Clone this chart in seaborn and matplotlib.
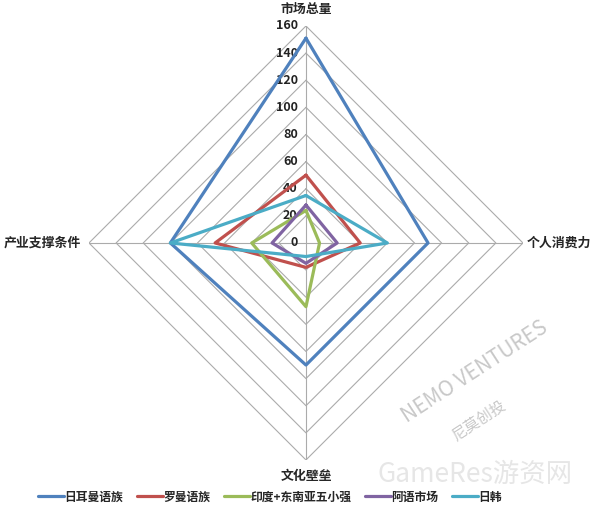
import numpy as np
import pandas as pd
import matplotlib
matplotlib.use("Agg")
import matplotlib.pyplot as plt
import seaborn as sns

# axes of the radar, clockwise from the top
categories = ["市场总量", "个人消费力", "文化壁垒", "产业支撑条件"]
series_names = ["日耳曼语族", "罗曼语族", "印度+东南亚五小强", "阿语市场", "日韩"]
germanic = [151, 90, 90, 100]
romance = [50, 40, 18, 67]
india_sea = [24, 10, 47, 40]
arabic = [28, 23, 15, 25]
jp_kr = [35, 60, 10, 100]
ring_ticks = [0, 20, 40, 60, 80, 100, 120, 140, 160]

colors = ["#4F81BD", "#C0504D", "#9BBB59", "#8064A2", "#4BACC6"]

sns.set_theme(style="white")
plt.rcParams['font.family'] = ['Noto Sans CJK SC', 'DejaVu Sans']

angles = np.linspace(0, 2 * np.pi, len(categories), endpoint=False)
angles_closed = np.append(angles, 2 * np.pi)

fig = plt.figure(figsize=(6, 5.12), dpi=100)
ax = fig.add_axes([0.1483, 0.1016, 0.7233, 0.8477], projection="polar")
ax.set_theta_zero_location("N")
ax.set_theta_direction(-1)
ax.set_ylim(0, 160)
ax.set_xticks([])
ax.set_yticks([])
ax.grid(False)
ax.spines["polar"].set_visible(False)
ax.patch.set_alpha(0)

# polygon grid + spokes
for r in ring_ticks[1:]:
    ax.plot(angles_closed, [r] * len(angles_closed), color="#ABABAB", lw=0.8, zorder=1)
for a in angles:
    ax.plot([a, a], [0, 160], color="#ABABAB", lw=0.8, zorder=1)

for r in ring_ticks:
    ax.annotate(str(r), xy=(0, r), xytext=(-6, 0), textcoords="offset points",
                ha="right", va="center", fontsize=9, fontweight="bold", color="#222222")

all_vals = [germanic, romance, india_sea, arabic, jp_kr]
for name, vals, c in zip(series_names, all_vals, colors):
    df = pd.DataFrame({"theta": angles_closed, "value": vals + vals[:1]})
    sns.lineplot(data=df, x="theta", y="value", ax=ax, sort=False, estimator=None,
                 color=c, lw=2.3, label=name, zorder=3)

ax.set_xlabel("")
ax.set_ylabel("")
ax.get_legend().remove()

# category labels
lab = dict(fontsize=9.3, fontweight="bold")
fig.text(306 / 600, 1 - 9 / 512, categories[0], ha="center", va="center", **lab)
fig.text(527 / 600, 1 - 243 / 512, categories[1], ha="left", va="center", **lab)
fig.text(306 / 600, 1 - 476 / 512, categories[2], ha="center", va="center", **lab)
fig.text(81 / 600, 1 - 243 / 512, categories[3], ha="right", va="center", **lab)

# watermarks
fig.text(475 / 600, 1 - 372 / 512, "NEMO VENTURES", rotation=33, ha="center", va="center",
         fontsize=15, color="#C8C8C8", zorder=0)
fig.text(478 / 600, 1 - 420 / 512, "尼莫创投", rotation=33, ha="center", va="center",
         fontsize=11, color="#C8C8C8", zorder=0)
fig.text(475 / 600, 1 - 474 / 512, "GameRes游资网", ha="center", va="center",
         fontsize=19, color="#E6E6E6", zorder=0)

handles, labels = ax.get_legend_handles_labels()
leg = fig.legend(handles, labels, loc="center", bbox_to_anchor=(270 / 600, 15 / 512),
                 ncol=5, frameon=False, handlelength=2.2, handletextpad=0.0,
                 columnspacing=1.2, prop={"size": 8.5, "weight": "bold"})

fig.savefig("out.png", dpi=100)
